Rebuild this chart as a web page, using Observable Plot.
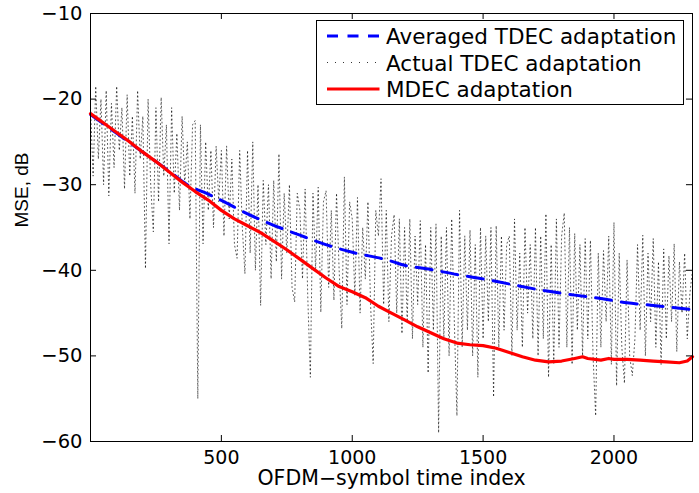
<!DOCTYPE html>
<html><head><meta charset="utf-8">
<script src="https://cdn.jsdelivr.net/npm/d3@7"></script>
<script src="https://cdn.jsdelivr.net/npm/@observablehq/plot@0.6"></script>
<style>
html,body{margin:0;padding:0;background:#fff;}
#chart svg{display:block;}
</style></head><body><div id="chart"></div>
<script>
// ---- data ----
const xTicks = [500, 1000, 1500, 2000];
const yTicks = [-60, -50, -40, -30, -20, -10];
const xLabel = "OFDM\u2212symbol time index";
const yLabel = "MSE, dB";
const seriesNames = ["Averaged TDEC adaptation", "Actual TDEC adaptation", "MDEC adaptation"];
const seriesColors = ["#0000ff", "#000000", "#ff0000"];

// Actual TDEC adaptation, one value every 10 symbols (x = 0 … 2300)
const actualStep = 10;
const actualMSE = [
  -21, -29, -18.5, -27, -20, -30, -19, -31.3, -20.5, -28,
  -18.5, -26, -21, -30.5, -19.5, -29, -22, -31, -19, -27,
  -22, -39.8, -20, -30, -35.5, -21, -32, -19.8, -29, -23,
  -36.9, -21, -31, -24, -33, -22, -30, -25, -34, -23,
  -22.5, -55, -23, -36.9, -25, -33, -26, -35, -25.5, -32,
  -26, -36, -25.5, -34, -27, -37, -38.6, -26, -35, -40.4,
  -26, -38, -25, -40, -30, -44.1, -29.5, -37, -30, -41,
  -29.5, -39, -26.4, -41, -31, -38, -30, -42, -43.7, -31,
  -33, -41, -30.5, -43, -52.5, -31, -40, -30.3, -44.9, -32,
  -30.7, -42, -33, -43.5, -31, -40, -46.8, -29.1, -44, -32,
  -34, -43, -31.5, -45, -35, -41, -32, -44, -50.9, -33,
  -36, -29.3, -44, -33, -46, -36, -33.5, -45, -34, -47.4,
  -35, -46, -34, -48, -36, -44, -34.2, -49, -37, -52,
  -35, -47, -34.6, -59, -36, -48, -35, -50, -34, -46,
  -57, -33, -49, -36, -47, -35.3, -50, -37, -52.5, -35,
  -48, -36, -46, -35, -54.8, -34.8, -49, -36, -47, -37,
  -36, -50, -34, -47, -38, -49, -35, -45, -37, -48,
  -35, -50, -36, -48, -33.4, -52.5, -37, -51, -34, -49,
  -36, -33.3, -49, -35, -51, -35.7, -47, -37, -50, -36.3,
  -48, -36.5, -50, -57, -38, -49, -37.7, -46, -36, -51,
  -34.4, -53.5, -38, -49, -53.2, -38.8, -50, -52.3, -48, -37,
  -47, -35.9, -50, -38, -46, -36.3, -49, -39, -51, -37.5,
  -48, -38.3, -46, -36.9, -49.5, -39, -45, -38, -48, -42.7,
  -40
];

// Averaged TDEC adaptation
const avgX   = [0, 100, 200, 300, 370, 450, 517, 586, 650, 739, 800, 930, 1000, 1146, 1185, 1300, 1400, 1500, 1600, 1738, 1850, 1950, 2050, 2150, 2300];
const avgMSE = [-21.8, -24.0, -26.2, -28.4, -30.0, -31.1, -32.1, -33.2, -34.1, -35.2, -35.9, -37.3, -37.9, -38.9, -39.3, -39.9, -40.5, -41.0, -41.6, -42.4, -42.9, -43.3, -43.8, -44.1, -44.6];

// MDEC adaptation
const mdecX   = [0, 50, 100, 150, 200, 250, 300, 350, 400, 450, 500, 550, 600, 650, 700, 750, 800, 850, 900, 950, 1000, 1050, 1100, 1150, 1200, 1250, 1300, 1350, 1400, 1450, 1500, 1550, 1600, 1650, 1700, 1750, 1800, 1850, 1880, 1900, 1950, 1980, 2000, 2050, 2100, 2150, 2200, 2250, 2280, 2300];
const mdecMSE = [-21.7, -22.8, -23.9, -25.0, -26.2, -27.3, -28.5, -29.7, -30.8, -31.8, -33.0, -34.0, -34.8, -35.6, -36.6, -37.6, -38.7, -39.8, -40.9, -41.9, -42.5, -43.2, -44.2, -45.0, -45.8, -46.6, -47.3, -48.0, -48.5, -48.7, -48.8, -49.1, -49.6, -50.1, -50.5, -50.7, -50.6, -50.3, -50.1, -50.3, -50.5, -50.3, -50.4, -50.4, -50.5, -50.6, -50.7, -50.8, -50.6, -50.1];

// ---- tables ----
const actual = actualMSE.map((v, i) => ({x: i * actualStep, y: v}));
const avg = avgX.map((x, i) => ({x, y: avgMSE[i]}));
const mdec = mdecX.map((x, i) => ({x, y: mdecMSE[i]}));

const FONT = "'DejaVu Sans', sans-serif";
const fmt = d3.format("d");

const chart = Plot.plot({
  width: 699, height: 493,
  marginLeft: 90, marginRight: 7, marginTop: 13, marginBottom: 52,
  style: {fontFamily: FONT, fontSize: "19.5px", background: "#fff", color: "#000"},
  x: {domain: [0, 2300]},
  y: {domain: [-60, -10]},
  marks: [
    Plot.line(actual, {x: "x", y: "y", stroke: seriesColors[1], strokeWidth: 0.65, strokeDasharray: "1,3"}),
    Plot.line(avg, {x: "x", y: "y", stroke: seriesColors[0], strokeWidth: 3, strokeDasharray: "16,10", curve: "monotone-x"}),
    Plot.line(mdec, {x: "x", y: "y", stroke: seriesColors[2], strokeWidth: 3.2, curve: "linear"}),
    Plot.ruleX(xTicks, {y1: -60, y2: -59.3, stroke: "#000"}),
    Plot.ruleX(xTicks, {y1: -10, y2: -10.7, stroke: "#000"}),
    Plot.ruleY(yTicks, {x1: 0, x2: 23, stroke: "#000"}),
    Plot.ruleY(yTicks, {x1: 2300, x2: 2277, stroke: "#000"}),
    Plot.frame({stroke: "#000", strokeWidth: 1}),
    Plot.axisX({ticks: xTicks, tickSize: 0, tickPadding: 9, label: null, fontSize: 19, tickFormat: fmt}),
    Plot.axisY({ticks: yTicks, tickSize: 0, tickPadding: 8, label: null, fontSize: 19.5, tickFormat: fmt}),
    Plot.text([xLabel], {text: d => d, frameAnchor: "bottom", dy: 43.5, fontSize: 20.5, fill: "#000"}),
    Plot.text([yLabel], {text: d => d, frameAnchor: "left", dx: -69, rotate: -90, fontSize: 19, fontFamily: "'Liberation Sans', Arial, sans-serif", fill: "#000"})
  ]
});

// ---- legend ----
const svg = d3.select(chart);
const lg = svg.append("g").attr("font-family", FONT).attr("font-size", 21.5).attr("text-anchor", "start");
lg.append("rect").attr("x", 316.5).attr("y", 20.5).attr("width", 367).attr("height", 84)
  .attr("fill", "#fff").attr("stroke", "#000").attr("stroke-width", 1);
const rows = [
  {dash: "11,9.5", width: 3},
  {dash: "1,7", width: 0.8},
  {dash: null, width: 3}
];
seriesNames.forEach((name, i) => {
  const cy = 36 + i * 26.5;
  lg.append("line").attr("x1", 327).attr("x2", 379.5).attr("y1", cy).attr("y2", cy)
    .attr("stroke", seriesColors[i]).attr("stroke-width", rows[i].width)
    .attr("stroke-dasharray", rows[i].dash);
  lg.append("text").attr("x", 386).attr("y", cy + 8).attr("fill", "#000").attr("text-anchor", "start").text(name);
});

document.getElementById("chart").appendChild(chart);
</script>
</body></html>
